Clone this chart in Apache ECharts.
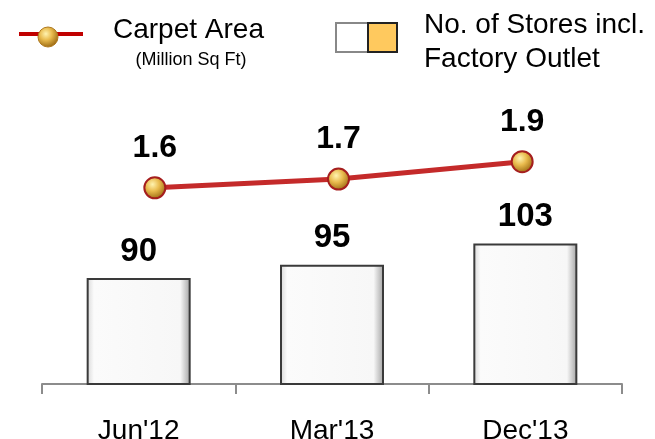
<!DOCTYPE html>
<html>
<head>
<meta charset="utf-8">
<script src="https://cdn.jsdelivr.net/npm/echarts@6/dist/echarts.min.js"></script>
<style>
  html, body { margin: 0; padding: 0; background: #fff; }
  #main { width: 655px; height: 439px; }
</style>
</head>
<body>
<div id="main"></div>
<script>
// chart data
var categories = ["Jun'12", "Mar'13", "Dec'13"];
var storeCount = [90, 95, 103];
var carpetArea = [1.6, 1.7, 1.9];

var FONT = '"Liberation Sans", Arial, sans-serif';

var myChart = echarts.init(document.getElementById('main'));

// gold ball marker
var ballColor = {
  type: 'radial', x: 0.4, y: 0.35, r: 0.65,
  colorStops: [
    { offset: 0, color: '#fff3b0' },
    { offset: 0.45, color: '#e9bb4e' },
    { offset: 1, color: '#9c6a12' }
  ]
};

// white bevelled bar
var barColor = {
  type: 'linear', x: 0, y: 0, x2: 1, y2: 0,
  colorStops: [
    { offset: 0, color: '#d6d6d6' },
    { offset: 0.07, color: '#fbfbfb' },
    { offset: 0.9, color: '#f7f7f7' },
    { offset: 1, color: '#a0a0a0' }
  ]
};

var option = {
  backgroundColor: '#ffffff',
  animation: false,
  grid: [
    { left: 42, right: 33, top: 119, bottom: 55, containLabel: false, outerBoundsMode: 'none' },
    { left: 63, right: 41, top: 153, bottom: 199, containLabel: false, outerBoundsMode: 'none' }
  ],
  xAxis: [
    {
      type: 'category',
      gridIndex: 0,
      data: categories,
      boundaryGap: true,
      axisLine: { show: true, lineStyle: { color: '#8c8c8c', width: 2 } },
      axisTick: { show: true, alignWithLabel: false, length: 10, lineStyle: { color: '#8c8c8c', width: 2 } },
      axisLabel: { color: '#000', fontSize: 28, fontFamily: FONT, margin: 33 }
    },
    {
      type: 'category',
      gridIndex: 1,
      data: categories,
      show: false
    }
  ],
  yAxis: [
    { type: 'value', gridIndex: 0, min: 50, max: 150, show: false },
    { type: 'value', gridIndex: 1, min: 1.0, max: 2.0, show: false }
  ],
  graphic: [
    // legend: carpet area
    { type: 'line', shape: { x1: 19, y1: 34, x2: 83, y2: 34 }, style: { stroke: '#c00000', lineWidth: 4 } },
    { type: 'circle', shape: { cx: 48, cy: 37, r: 10 }, style: { fill: ballColor, stroke: '#b07a20', lineWidth: 1 } },
    { type: 'text', x: 113, y: 30, style: { text: 'Carpet Area', fontSize: 28, fontFamily: FONT, fill: '#000', align: 'left', verticalAlign: 'middle', textAlign: 'left', textVerticalAlign: 'middle' } },
    { type: 'text', x: 191, y: 60, style: { text: '(Million Sq Ft)', fontSize: 18, fontFamily: FONT, fill: '#000', align: 'center', verticalAlign: 'middle', textAlign: 'center', textVerticalAlign: 'middle' } },
    // legend: stores
    { type: 'rect', shape: { x: 336, y: 23, width: 32, height: 29 }, style: { fill: '#fff', stroke: '#888', lineWidth: 2 } },
    { type: 'rect', shape: { x: 368, y: 23, width: 29, height: 29 }, style: { fill: '#ffc95e', stroke: '#222', lineWidth: 2 } },
    { type: 'text', x: 424, y: 25, style: { text: 'No. of Stores incl.', fontSize: 28, fontFamily: FONT, fill: '#000', align: 'left', verticalAlign: 'middle', textAlign: 'left', textVerticalAlign: 'middle' } },
    { type: 'text', x: 424, y: 59, style: { text: 'Factory Outlet', fontSize: 28, fontFamily: FONT, fill: '#000', align: 'left', verticalAlign: 'middle', textAlign: 'left', textVerticalAlign: 'middle' } }
  ],
  series: [
    {
      name: 'No. of Stores incl. Factory Outlet',
      type: 'bar',
      xAxisIndex: 0,
      yAxisIndex: 0,
      barWidth: 104,
      data: storeCount,
      itemStyle: { color: barColor, borderColor: '#3a3a3a', borderWidth: 2 },
      label: {
        show: true, position: 'top', distance: 10,
        color: '#000', fontSize: 33, fontWeight: 'bold', fontFamily: FONT
      }
    },
    {
      name: 'Carpet Area',
      type: 'line',
      xAxisIndex: 1,
      yAxisIndex: 1,
      data: carpetArea,
      symbol: 'circle',
      symbolSize: 21,
      lineStyle: { color: '#c42a2a', width: 5 },
      itemStyle: { color: ballColor, borderColor: '#a51e1e', borderWidth: 2 },
      label: {
        show: true, position: 'top', distance: 12,
        color: '#000', fontSize: 32, fontWeight: 'bold', fontFamily: FONT,
        formatter: function (p) { return p.value.toFixed(1); }
      },
      z: 5
    }
  ]
};

myChart.setOption(option);
</script>
</body>
</html>
